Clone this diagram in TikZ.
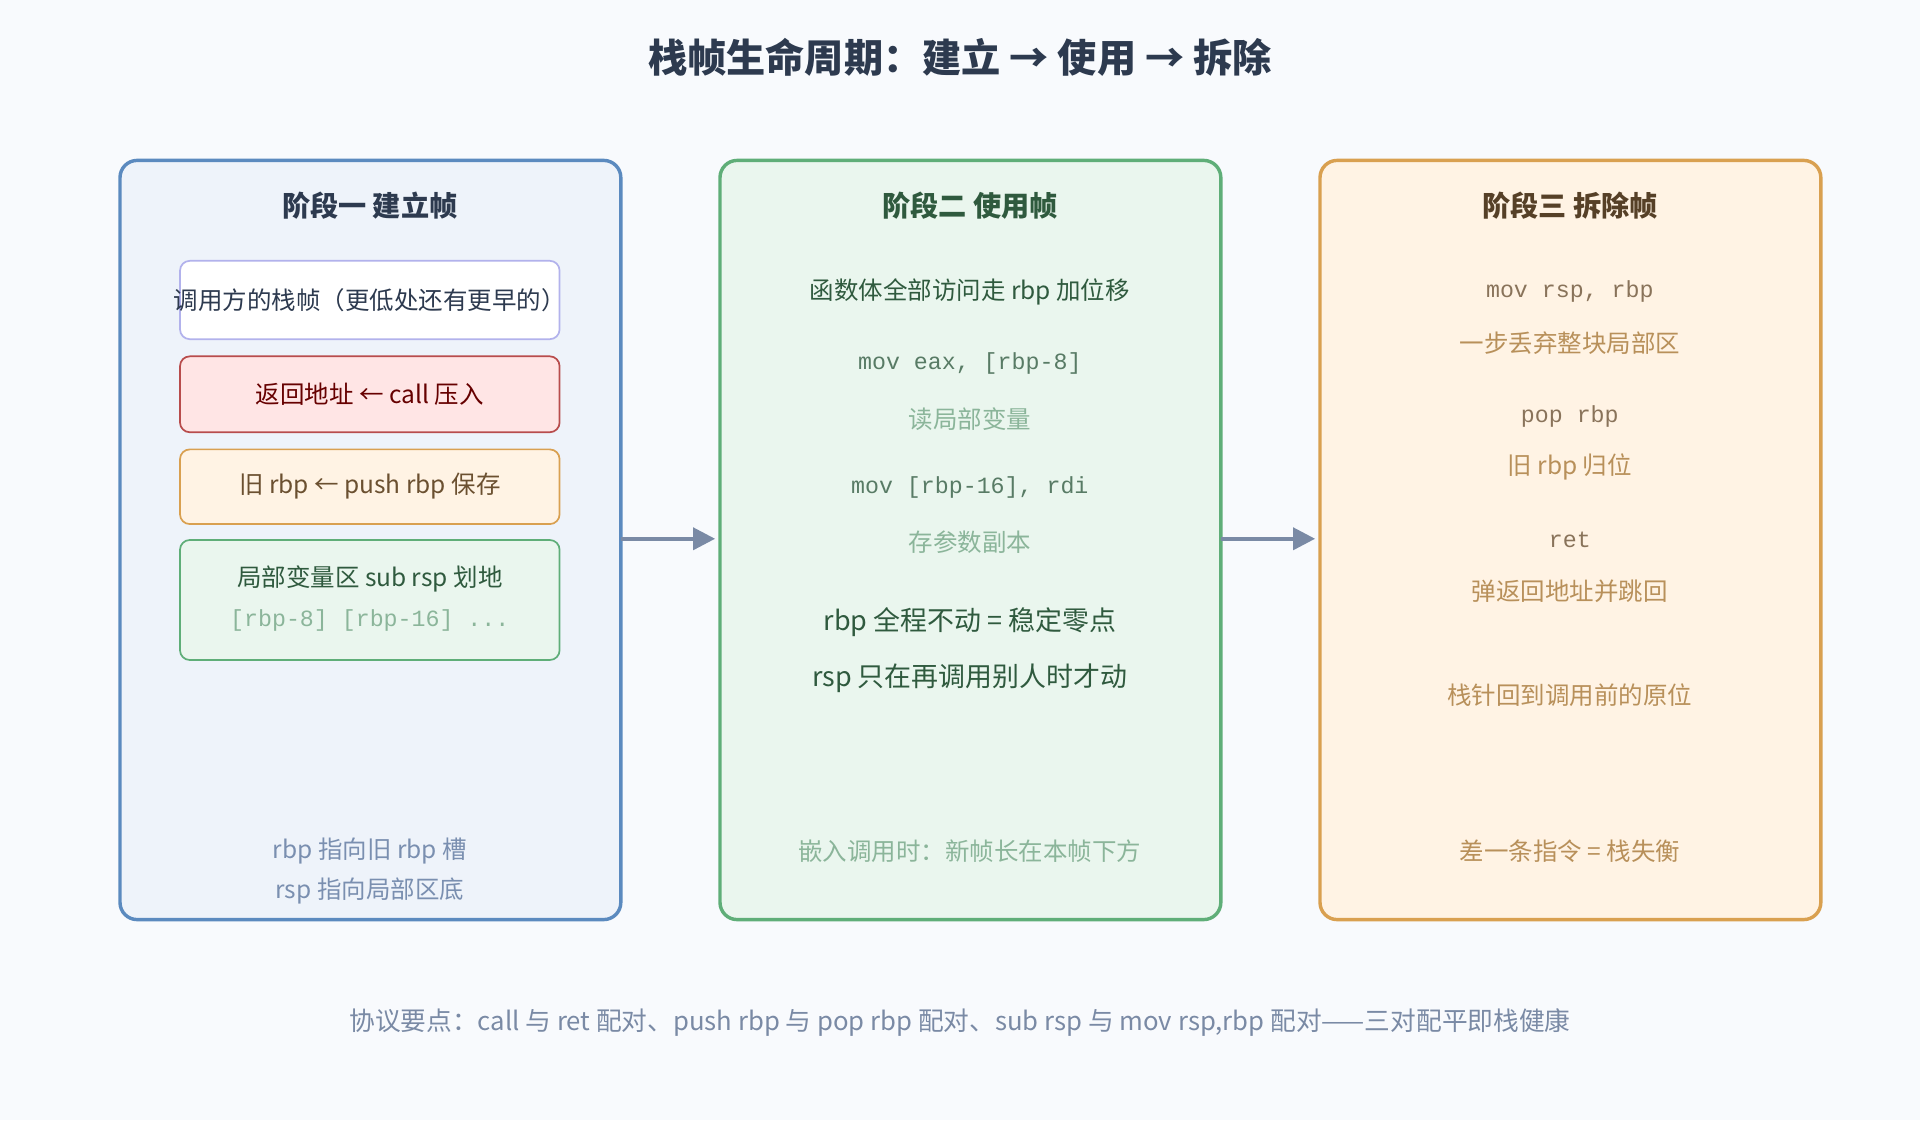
\documentclass[tikz,border=0pt]{standalone}
\usepackage{fontspec}
\setmainfont{Noto Sans CJK SC}
\setmonofont{Liberation Mono}
\usetikzlibrary{arrows.meta}
\definecolor{bg}{HTML}{F8FAFD}
\definecolor{titc}{HTML}{2D3A4F}
\definecolor{bA}{HTML}{5B8ABF}\definecolor{fA}{HTML}{EEF3FA}
\definecolor{bB}{HTML}{5FAE78}\definecolor{fB}{HTML}{EAF6EE}
\definecolor{bC}{HTML}{D9A050}\definecolor{fC}{HTML}{FFF3E4}
\definecolor{arr}{HTML}{7A8AA5}
\definecolor{dg}{HTML}{2F5A3E}\definecolor{lg}{HTML}{8BB59A}
\definecolor{db}{HTML}{6B5030}\definecolor{lb}{HTML}{B8905A}
\definecolor{gb}{HTML}{7A8FB0}
\begin{document}
\begin{tikzpicture}[x=0.5pt,y=-0.5pt,
 panel/.style={draw,line width=1.4pt,rounded corners=7pt},
 box/.style={draw,line width=0.7pt,rounded corners=4pt},
 t/.style={font=\fontsize{10}{12}\selectfont},
 m/.style={font=\ttfamily\fontsize{9.5}{12}\selectfont},
 h/.style={font=\bfseries\fontsize{11.5}{14}\selectfont},
 con/.style={draw=arr,line width=1.5pt,-{Triangle[length=9pt,width=9pt]}}]
\fill[bg] (0,0) rectangle (1568,915);
\node[font=\bfseries\fontsize{16}{19}\selectfont,text=titc] (title) at (784,47) {栈帧生命周期：建立 → 使用 → 拆除};
% panels
\draw[panel,draw=bA,fill=fA] (98,131) rectangle (507,751);
\draw[panel,draw=bB,fill=fB] (588,131) rectangle (997,751);
\draw[panel,draw=bC,fill=fC] (1078,131) rectangle (1487,751);
\coordinate (p1r) at (507,440); \coordinate (p2l) at (584,440);
\coordinate (p2r) at (997,440); \coordinate (p3l) at (1074,440);
\node[h,text=titc] (h1) at (302,168) {阶段一 建立帧};
\node[h,text=dg] (h2) at (792,168) {阶段二 使用帧};
\node[h,text=db!80!black] (h3) at (1282,168) {阶段三 拆除帧};
% panel 1 boxes
\draw[box,draw=black!25!blue!30,fill=white] (147,213) rectangle (457,277);
\node[t,text=titc] (b1) at (302,245) {调用方的栈帧（更低处还有更早的）};
\draw[box,draw=red!60!black!70,fill=red!10] (147,291) rectangle (457,353);
\node[t,text=red!40!black] (b2) at (302,322) {返回地址 ← call 压入};
\draw[box,draw=bC,fill=fC] (147,367) rectangle (457,428);
\node[t,text=db] (b3) at (302,397) {旧 rbp ← push rbp 保存};
\draw[box,draw=bB,fill=fB] (147,441) rectangle (457,539);
\node[t,text=dg] (b4) at (302,473) {局部变量区 sub rsp 划地};
\node[m,text=lg] (b4b) at (302,507) {[rbp-8] [rbp-16] ...};
\node[t,text=gb] (f1a) at (302,695) {rbp 指向旧 rbp 槽};
\node[t,text=gb] (f1b) at (302,728) {rsp 指向局部区底};
% panel 2
\node[t,text=dg] (c1) at (792,238) {函数体全部访问走 rbp 加位移};
\node[m,text=dg!80] (c2) at (792,297) {mov eax, [rbp-8]};
\node[t,text=lg] (c3) at (792,342) {读局部变量};
\node[m,text=dg!80] (c4) at (792,398) {mov [rbp-16], rdi};
\node[t,text=lg] (c5) at (792,443) {存参数副本};
\node[t,text=dg,font=\fontsize{11}{13}\selectfont] (c6) at (792,508) {rbp 全程不动 = 稳定零点};
\node[t,text=dg,font=\fontsize{11}{13}\selectfont] (c7) at (792,554) {rsp 只在再调用别人时才动};
\node[t,text=lg] (c8) at (792,695) {嵌入调用时：新帧长在本帧下方};
% panel 3
\node[m,text=db!80] (d1) at (1282,238) {mov rsp, rbp};
\node[t,text=lb] (d2) at (1282,280) {一步丢弃整块局部区};
\node[m,text=db!80] (d3) at (1282,340) {pop rbp};
\node[t,text=lb] (d4) at (1282,381) {旧 rbp 归位};
\node[m,text=db!80] (d5) at (1282,441) {ret};
\node[t,text=lb] (d6) at (1282,483) {弹返回地址并跳回};
\node[t,text=lb] (d7) at (1282,568) {栈针回到调用前的原位};
\node[t,text=lb] (d8) at (1282,695) {差一条指令 = 栈失衡};
% arrows
\draw[con] (p1r) -- (p2l);
\draw[con] (p2r) -- (p3l);
\node[t,text=arr,font=\fontsize{10.5}{12}\selectfont] (foot) at (784,835) {协议要点：call 与 ret 配对、push rbp 与 pop rbp 配对、sub rsp 与 mov rsp,rbp 配对——三对配平即栈健康};
\end{tikzpicture}
\end{document}
